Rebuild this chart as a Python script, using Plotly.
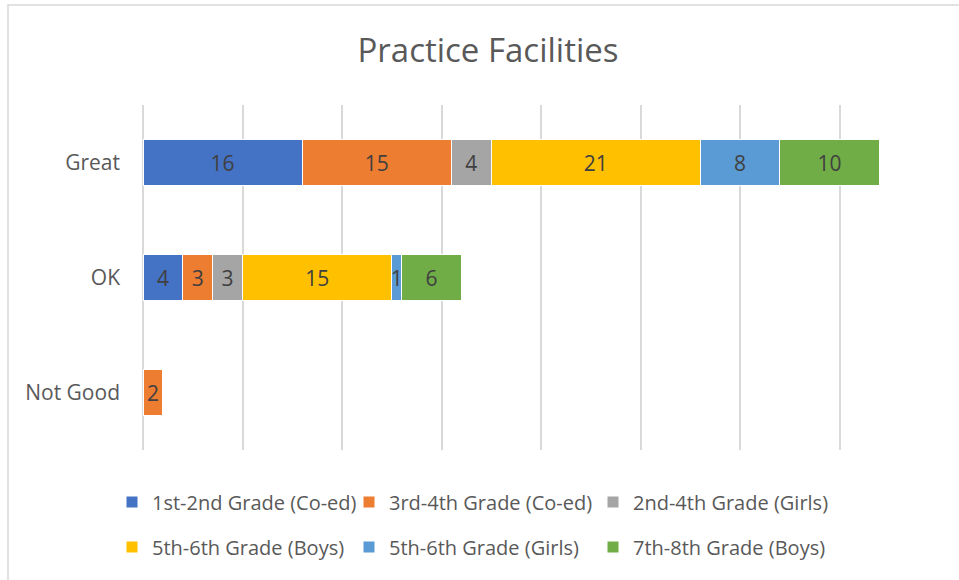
import plotly.graph_objects as go

categories = ["Great", "OK", "Not Good"]
series_names = [
    "1st-2nd Grade (Co-ed)",
    "3rd-4th Grade (Co-ed)",
    "2nd-4th Grade (Girls)",
    "5th-6th Grade (Boys)",
    "5th-6th Grade (Girls)",
    "7th-8th Grade (Boys)",
]
grade_1_2_coed = [16, 4, None]
grade_3_4_coed = [15, 3, 2]
grade_2_4_girls = [4, 3, None]
grade_5_6_boys = [21, 15, None]
grade_5_6_girls = [8, 1, None]
grade_7_8_boys = [10, 6, None]
series_values = [grade_1_2_coed, grade_3_4_coed, grade_2_4_girls,
                 grade_5_6_boys, grade_5_6_girls, grade_7_8_boys]
colors = ["#4472C4", "#ED7D31", "#A5A5A5", "#FFC000", "#5B9BD5", "#70AD47"]

FONT = "Open Sans"
W, H = 959, 580
L, R, T, B = 143, 20, 105, 130
pw, ph = W - L - R, H - T - B
col_widths = [192, 199, 240]

def px_x(p):
    return (p - L) / pw

def px_y(p):
    return (H - B - p) / ph

fig = go.Figure()
for i, (name, vals, col) in enumerate(zip(series_names, series_values, colors)):
    fig.add_trace(go.Bar(
        y=categories, x=vals, name=name, orientation="h",
        marker=dict(color=col, line=dict(color="white", width=1)),
        texttemplate="%{x}", textposition="inside", insidetextanchor="middle",
        textfont=dict(family=FONT, size=21, color="#404040"),
        constraintext="none", cliponaxis=False,
        legend="legend" if i < 3 else "legend2",
        legendwidth=col_widths[i % 3],
    ))

legend_common = dict(
    orientation="h", xanchor="left", yanchor="middle", traceorder="normal",
    font=dict(family=FONT, size=20, color="#595959"),
    entrywidthmode="pixels",
    bgcolor="rgba(0,0,0,0)",
)

fig.update_layout(
    width=W, height=H,
    margin=dict(l=L, r=R, t=T, b=B),
    paper_bgcolor="white", plot_bgcolor="white",
    barmode="stack", bargap=0.6,
    uniformtext=dict(minsize=21, mode="show"),
    title=dict(text="Practice Facilities", x=488 / W, xref="container", xanchor="center",
               y=1 - 50 / H, yref="container", yanchor="middle",
               font=dict(family=FONT, size=33, color="#595959")),
    xaxis=dict(range=[0, 80], dtick=10, showticklabels=False, showgrid=True,
               gridcolor="#D9D9D9", gridwidth=1.5, zeroline=True,
               zerolinecolor="#D9D9D9", zerolinewidth=1.5, showline=False),
    yaxis=dict(range=[2.5, -0.5], showgrid=False, zeroline=False, showline=False,
               ticks="", ticklabelstandoff=22,
               tickfont=dict(family=FONT, size=21, color="#595959")),
    legend=dict(x=px_x(112), y=px_y(502), **legend_common),
    legend2=dict(x=px_x(112), y=px_y(547), **legend_common),
    showlegend=True,
    shapes=[dict(type="rect", xref="paper", yref="paper",
                 x0=px_x(8), x1=px_x(970), y0=px_y(5), y1=px_y(590),
                 line=dict(color="#D9D9D9", width=1.5), layer="below")],
)

fig.write_html("out.html", config={"displayModeBar": False},
               post_script="document.body.style.margin='0';")
